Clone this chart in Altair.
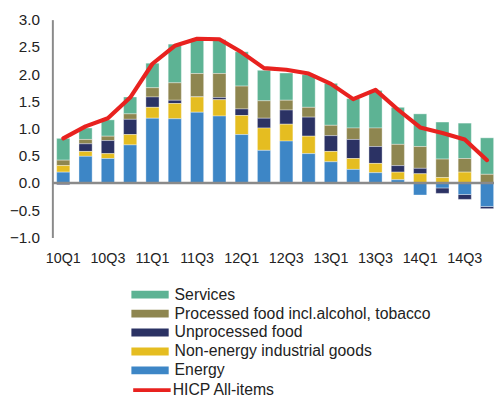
import altair as alt
import pandas as pd

quarters = ["10Q1", "10Q2", "10Q3", "10Q4", "11Q1", "11Q2", "11Q3", "11Q4",
            "12Q1", "12Q2", "12Q3", "12Q4", "13Q1", "13Q2", "13Q3", "13Q4",
            "14Q1", "14Q2", "14Q3", "14Q4"]
tick_quarters = ["10Q1", "10Q3", "11Q1", "11Q3", "12Q1", "12Q3", "13Q1", "13Q3", "14Q1", "14Q3"]
y_ticks = [-1, -0.5, 0, 0.5, 1, 1.5, 2, 2.5, 3]

energy = [0.20, 0.49, 0.45, 0.70, 1.19, 1.18, 1.30, 1.23, 0.89, 0.60,
          0.77, 0.54, 0.39, 0.25, 0.19, 0.06, -0.22, -0.09, -0.21, -0.43]
neig = [0.12, 0.09, 0.09, 0.19, 0.20, 0.28, 0.28, 0.30, 0.35, 0.41,
        0.31, 0.32, 0.19, 0.20, 0.17, 0.14, 0.17, 0.10, 0.20, 0.00]
unprocessed = [-0.03, 0.14, 0.24, 0.28, 0.19, 0.06, 0.00, 0.04, 0.12, 0.18,
               0.26, 0.35, 0.29, 0.35, 0.31, 0.12, 0.10, -0.10, -0.09, -0.04]
processed = [0.10, 0.08, 0.08, 0.10, 0.17, 0.32, 0.43, 0.44, 0.42, 0.32,
             0.18, 0.18, 0.19, 0.21, 0.34, 0.39, 0.40, 0.34, 0.25, 0.16]
services = [0.40, 0.21, 0.30, 0.31, 0.45, 0.71, 0.63, 0.62, 0.63, 0.56,
            0.50, 0.60, 0.77, 0.54, 0.69, 0.68, 0.60, 0.68, 0.65, 0.67]
hicp = [0.82, 1.04, 1.19, 1.57, 2.19, 2.52, 2.65, 2.64, 2.40, 2.11,
        2.08, 2.01, 1.82, 1.54, 1.71, 1.35, 1.02, 0.92, 0.80, 0.42]

series_names = ["Services", "Processed food incl.alcohol, tobacco", "Unprocessed food",
                "Non-energy industrial goods", "Energy"]
series_colors = ["#5DB394", "#8E8650", "#2B3264", "#E5BD21", "#3D86C6"]
hicp_name = "HICP All-items"
hicp_color = "#E8221F"

series_values = [services, processed, unprocessed, neig, energy]

rows = []
for rank, (name, vals) in enumerate(zip(series_names, series_values)):
    for q, v in zip(quarters, vals):
        rows.append({"quarter": q, "component": name, "value": v, "rank": len(series_names) - rank})
bars_df = pd.DataFrame(rows)
line_df = pd.DataFrame({"quarter": quarters, "value": hicp, "series": hicp_name})
zero_df = pd.DataFrame({"value": [0.0]})

x_axis = alt.Axis(values=tick_quarters, labelAngle=0, ticks=False, domain=False,
                  labelPadding=14, labelFontSize=14.5, title=None, labelColor="#222222")
x_scale = alt.Scale(paddingInner=0.41, paddingOuter=0.105, align=0.92)
y_scale = alt.Scale(domain=[-1, 3], nice=False, zero=False)
y_axis = alt.Axis(values=y_ticks, format=".1f", grid=False,
                  ticks=False, domainColor="#8A8A8A", domainWidth=2, labelPadding=13,
                  labelFontSize=15.5, title=None, labelColor="#222222")

bars = alt.Chart(bars_df).mark_bar(stroke="#FFFFFF", strokeWidth=0.6, strokeOpacity=0.6).encode(
    x=alt.X("quarter:N", sort=quarters, scale=x_scale, axis=x_axis),
    y=alt.Y("value:Q", stack="zero", scale=y_scale, axis=y_axis),
    color=alt.Color(
        "component:N",
        scale=alt.Scale(domain=series_names, range=series_colors),
        legend=alt.Legend(title=None, orient="none", legendX=80, legendY=273,
                          symbolType="M-1,-0.21H1V0.21H-1Z", symbolSize=1444,
                          symbolStrokeWidth=0, clipHeight=12, labelFontSize=16,
                          labelOffset=6, rowPadding=3.2, labelLimit=400,
                          labelColor="#222222"),
    ),
    order=alt.Order("rank:Q", sort="ascending"),
)

zero_rule = alt.Chart(zero_df).mark_rule(color="#8A8A8A", strokeWidth=2.5).encode(
    y=alt.Y("value:Q", scale=y_scale, axis=y_axis)
)

line = alt.Chart(line_df).mark_line(strokeWidth=4.2, strokeJoin="round", strokeCap="round").encode(
    x=alt.X("quarter:N", sort=quarters, scale=x_scale, axis=x_axis),
    y=alt.Y("value:Q", scale=y_scale, axis=y_axis),
    stroke=alt.Stroke(
        "series:N",
        scale=alt.Scale(domain=[hicp_name], range=[hicp_color]),
        legend=alt.Legend(title=None, orient="none", legendX=80, legendY=369.8,
                          symbolType="stroke", symbolSize=1444, symbolStrokeWidth=4,
                          clipHeight=12, labelFontSize=16, labelOffset=0,
                          labelLimit=400, labelColor="#222222"),
    ),
)

chart = alt.layer(bars, zero_rule, line).properties(
    width=448, height=221,
    autosize=alt.AutoSizeParams(type="none"),
    padding={"left": 45, "top": 9, "right": 0, "bottom": 160},
).configure(font="Liberation Sans").configure_view(stroke=None)

chart.save("out.html", embed_options={"renderer": "svg", "actions": False})
